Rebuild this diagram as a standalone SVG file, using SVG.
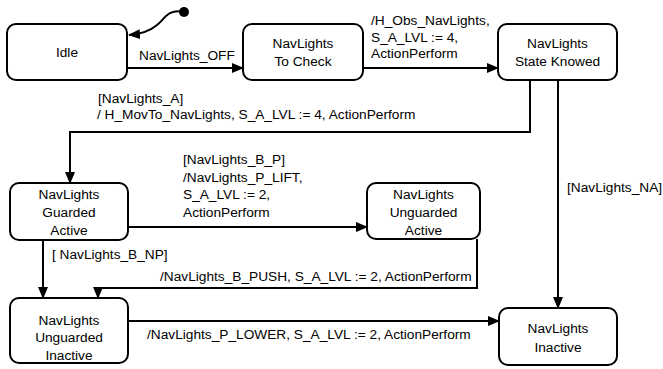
<svg xmlns="http://www.w3.org/2000/svg" width="663" height="369" viewBox="0 0 663 369">
<style>
.box{fill:#fff;stroke:#000;stroke-width:2}
.t{font-family:"Liberation Sans",Arial,sans-serif;font-size:13.7px;fill:#000}
.c{text-anchor:middle}
.e{fill:none;stroke:#000;stroke-width:2}
</style>
<defs>
<marker id="ah" markerWidth="12" markerHeight="10" refX="11" refY="5" orient="auto" markerUnits="userSpaceOnUse">
<path d="M0,0 L12,5 L0,10 Z" fill="#000"/>
</marker>
</defs>
<rect width="663" height="369" fill="#fff"/>
<g id="connectors">
<circle cx="184" cy="12" r="5" fill="#000"/>
<path class="e" d="M184,12 C168,8 164,20 157,25 C150,31 142,34 129,35" marker-end="url(#ah)"/>
<path class="e" d="M127,68 H243" marker-end="url(#ah)"/>
<path class="e" d="M363,68 H498" marker-end="url(#ah)"/>
<path class="e" d="M530,80 V132 H70 V183" marker-end="url(#ah)"/>
<path class="e" d="M558,80 V308" marker-end="url(#ah)"/>
<path class="e" d="M128,227 H367" marker-end="url(#ah)"/>
<path class="e" d="M43,240 V298" marker-end="url(#ah)"/>
<path class="e" d="M477,239 V288 H98 V298" marker-end="url(#ah)"/>
<path class="e" d="M128,321 H499" marker-end="url(#ah)"/>
<text class="t" x="139" y="60">NavLights_OFF</text>
<text class="t" x="371" y="25">/H_Obs_NavLights,</text>
<text class="t" x="371" y="42">S_A_LVL := 4,</text>
<text class="t" x="371" y="58">ActionPerform</text>
<text class="t" x="98" y="103">[NavLights_A]</text>
<text class="t" x="97" y="119">/ H_MovTo_NavLights, S_A_LVL := 4, ActionPerform</text>
<text class="t" x="183" y="164">[NavLights_B_P]</text>
<text class="t" x="183" y="182">/NavLights_P_LIFT,</text>
<text class="t" x="183" y="199">S_A_LVL := 2,</text>
<text class="t" x="183" y="217">ActionPerform</text>
<text class="t" x="567" y="192">[NavLights_NA]</text>
<text class="t" x="52" y="259">[ NavLights_B_NP]</text>
<text class="t" x="160" y="281">/NavLights_B_PUSH, S_A_LVL := 2, ActionPerform</text>
<text class="t" x="147" y="339">/NavLights_P_LOWER, S_A_LVL := 2, ActionPerform</text>
</g>
<g id="idle">
<rect class="box" x="7" y="24" width="120" height="56" rx="9"/>
<text class="t c" x="67" y="57">Idle</text>
</g>
<g id="tocheck">
<rect class="box" x="243" y="24" width="120" height="56" rx="9"/>
<text class="t c" x="303" y="48">NavLights</text>
<text class="t c" x="303" y="66">To Check</text>
</g>
<g id="stateknowed">
<rect class="box" x="498" y="24" width="119" height="56" rx="9"/>
<text class="t c" x="557.5" y="48">NavLights</text>
<text class="t c" x="557.5" y="66">State Knowed</text>
</g>
<g id="guardedactive">
<rect class="box" x="10" y="183" width="118" height="57" rx="9"/>
<text class="t c" x="69" y="199">NavLights</text>
<text class="t c" x="69" y="217">Guarded</text>
<text class="t c" x="69" y="235">Active</text>
</g>
<g id="unguardedactive">
<rect class="box" x="367" y="183" width="113" height="56" rx="9"/>
<text class="t c" x="423.5" y="199">NavLights</text>
<text class="t c" x="423.5" y="217">Unguarded</text>
<text class="t c" x="423.5" y="235">Active</text>
</g>
<g id="unguardedinactive">
<rect class="box" x="10" y="298" width="118" height="65" rx="9"/>
<text class="t c" x="69" y="325">NavLights</text>
<text class="t c" x="69" y="342">Unguarded</text>
<text class="t c" x="69" y="360">Inactive</text>
</g>
<g id="inactive">
<rect class="box" x="499" y="308" width="118" height="57" rx="9"/>
<text class="t c" x="558" y="333">NavLights</text>
<text class="t c" x="558" y="352">Inactive</text>
</g>
</svg>
